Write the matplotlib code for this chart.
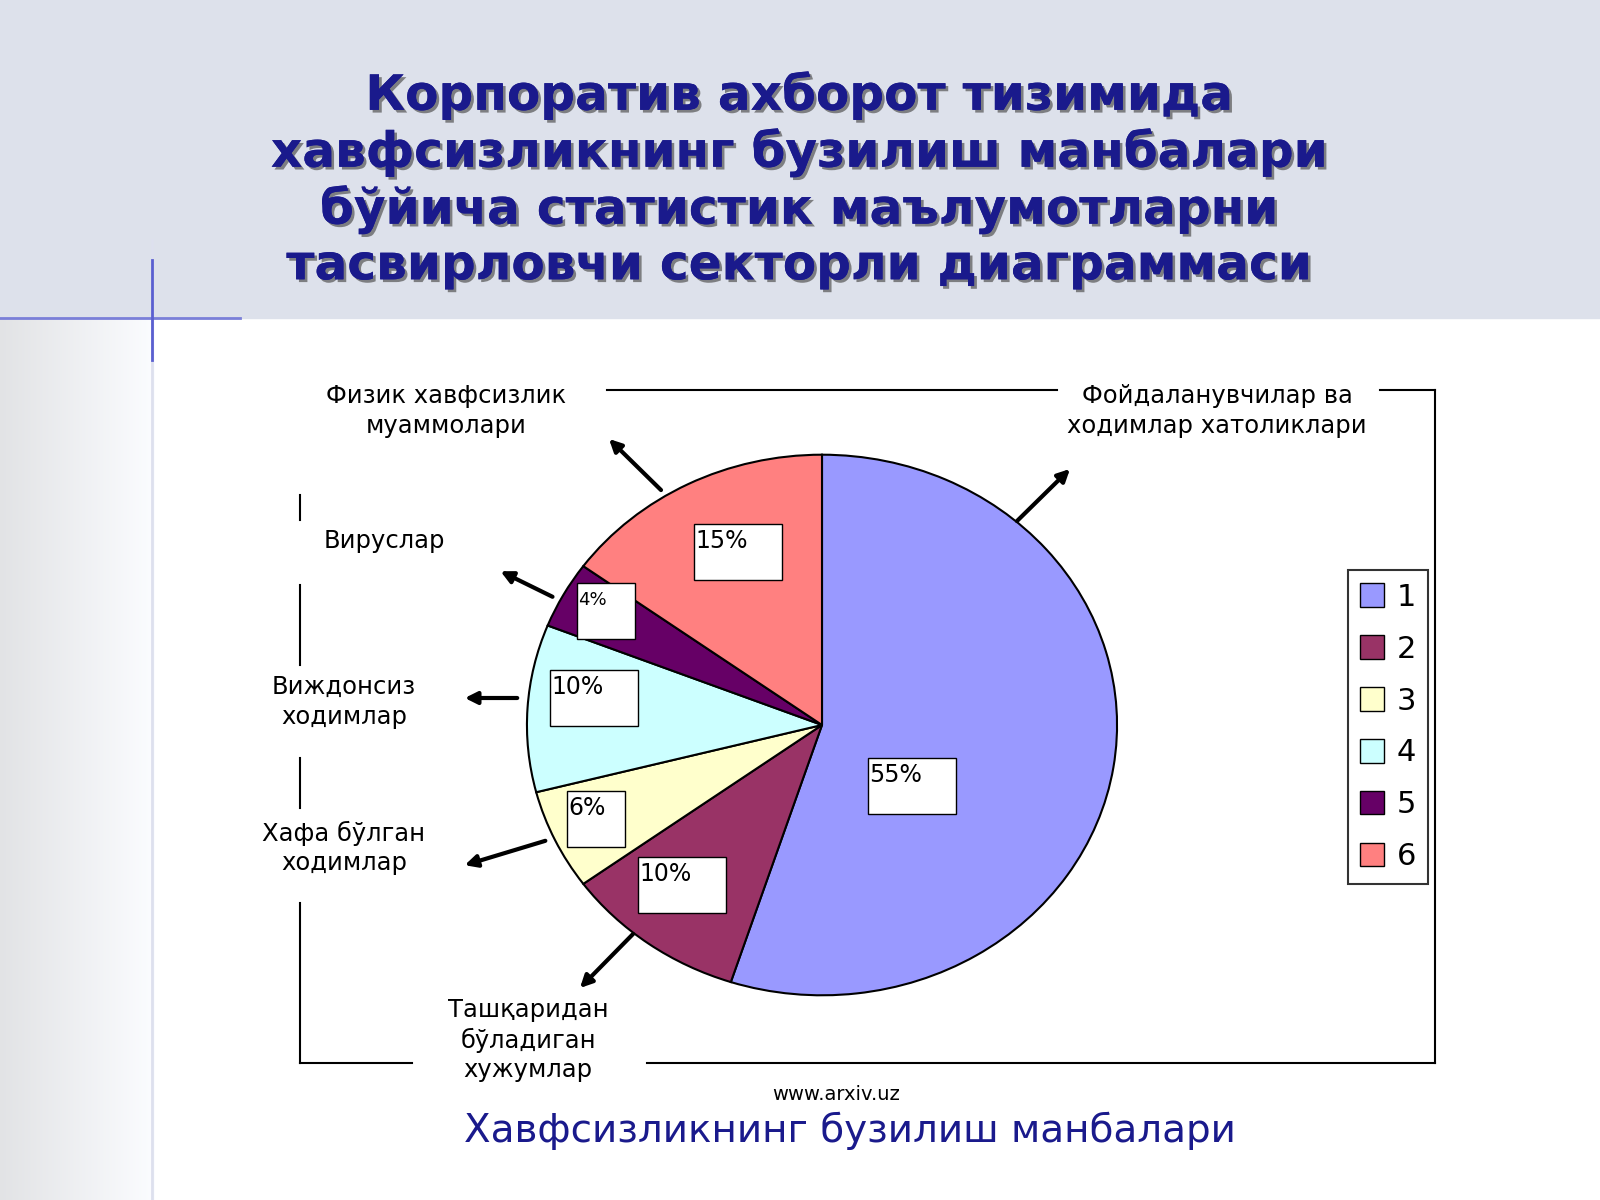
import matplotlib.pyplot as plt
import matplotlib.patheffects as pe
from matplotlib.patches import Rectangle, Patch
import numpy as np

shares = [55, 10, 6, 10, 4, 15]
pct_labels = ["55%", "10%", "6%", "10%", "4%", "15%"]
colors = ["#9999FF", "#993366", "#FFFFCC", "#CCFFFF", "#660066", "#FF8080"]
legend_labels = ["1", "2", "3", "4", "5", "6"]
title = ("Корпоратив ахборот тизимида\nхавфсизликнинг бузилиш манбалари\n"
         "бўйича статистик маълумотларни\nтасвирловчи секторли диаграммаси")

W, H = 1600, 1200
fig = plt.figure(figsize=(16, 12), dpi=100)


def fx(px):
    return px / W


def fy(py):
    return 1 - py / H


# background
bg = fig.add_axes([0, 0, 1, 1])
bg.set_xlim(0, W)
bg.set_ylim(H, 0)
bg.axis("off")
bg.add_patch(Rectangle((0, 0), W, 318, color="#DDE1EB", zorder=0))
grad = np.linspace(0.90, 1.0, 100).reshape(1, -1)
bg.imshow(np.dstack([grad * 0.985, grad * 0.99, grad]), extent=(0, 155, H, 318), aspect="auto", zorder=0)
bg.plot([152, 152], [240, H], color="#DDE0EE", lw=2)
bg.plot([0, 240], [318, 318], color="#7A7FD8", lw=2)
bg.plot([152, 152], [260, 360], color="#5A5FD0", lw=2)

fig.text(0.5, fy(180), title, ha="center", va="center", fontsize=35, fontweight="bold",
         color="#1A1A8C", linespacing=1.2,
         path_effects=[pe.withSimplePatchShadow(offset=(2, -2), shadow_rgbFace="#555555", alpha=0.7), pe.Normal()])

# pie
ax = fig.add_axes([fx(524), fy(998), fx(1120 - 524), (998 - 452) / H])
wedges, _ = ax.pie(shares, colors=colors, startangle=90, counterclock=False,
                   wedgeprops=dict(edgecolor="black", linewidth=1.5))
ax.set_aspect("auto")
ax.set_xlim(-1.01, 1.01)
ax.set_ylim(-1.01, 1.01)

# overlay for annotations
ov = fig.add_axes([0, 0, 1, 1])
ov.set_xlim(0, W)
ov.set_ylim(H, 0)
ov.axis("off")
ov.patch.set_alpha(0)

# frame with gaps for labels
frame = [((300, 1063), (412, 1063)), ((647, 1063), (1435, 1063)), ((1435, 1063), (1435, 390)),
         ((1435, 390), (1380, 390)), ((1057, 390), (607, 390)),
         ((300, 495), (300, 520)), ((300, 585), (300, 665)), ((300, 758), (300, 808)),
         ((300, 903), (300, 1063))]
for (x0, y0), (x1, y1) in frame:
    ov.plot([x0, x1], [y0, y1], color="black", lw=1.5)

# percentage boxes (top-left pixel, width, height)
boxes = [(868, 758, 88, 56), (638, 857, 88, 56), (567, 791, 58, 56),
         (550, 670, 88, 56), (577, 583, 58, 56), (694, 524, 88, 56)]
for (bx, by, bw, bh), lab in zip(boxes, pct_labels):
    ov.add_patch(Rectangle((bx, by), bw, bh, facecolor="white", edgecolor="black", lw=1, zorder=3))
    ov.text(bx + 1, by + 17, lab, fontsize=13 if lab == "4%" else 17,
            va="center", ha="left", zorder=4)

# category labels and arrows
labels = [("Фойдаланувчилар ва\nходимлар хатоликлари", 1217, 411, (1015, 523), (1072, 467)),
          ("Ташқаридан\nбўладиган\nхужумлар", 528, 1040, (635, 932), (578, 990)),
          ("Хафа бўлган\nходимлар", 344, 848, (548, 840), (462, 866)),
          ("Виждонсиз\nходимлар", 344, 702, (520, 698), (462, 698)),
          ("Вируслар", 384, 541, (555, 598), (498, 570)),
          ("Физик хавфсизлик\nмуаммолари", 446, 411, (663, 492), (607, 437))]
for text, tx, ty, start, end in labels:
    ov.text(tx, ty, text, ha="center", va="center", fontsize=17.5, linespacing=1.3)
    ov.annotate("", xy=end, xytext=start,
                arrowprops=dict(arrowstyle="-|>", color="black", lw=3, mutation_scale=18))

# legend
handles = [Patch(facecolor=c, edgecolor="black") for c in colors]
fig.legend(handles, legend_labels, loc="center", bbox_to_anchor=(fx(1388), fy(727)),
           fontsize=22, frameon=True, edgecolor="black", fancybox=False,
           handlelength=0.8, handleheight=0.8, labelspacing=0.75, borderpad=0.4, handletextpad=0.4
           ).get_frame().set_linewidth(1.5)

fig.text(fx(836), fy(1094), "www.arxiv.uz", ha="center", va="center", fontsize=14)
fig.text(fx(850), fy(1131), "Хавфсизликнинг бузилиш манбалари", ha="center", va="center",
         fontsize=28, color="#1A1A8C")

fig.savefig("out.png", dpi=100)
